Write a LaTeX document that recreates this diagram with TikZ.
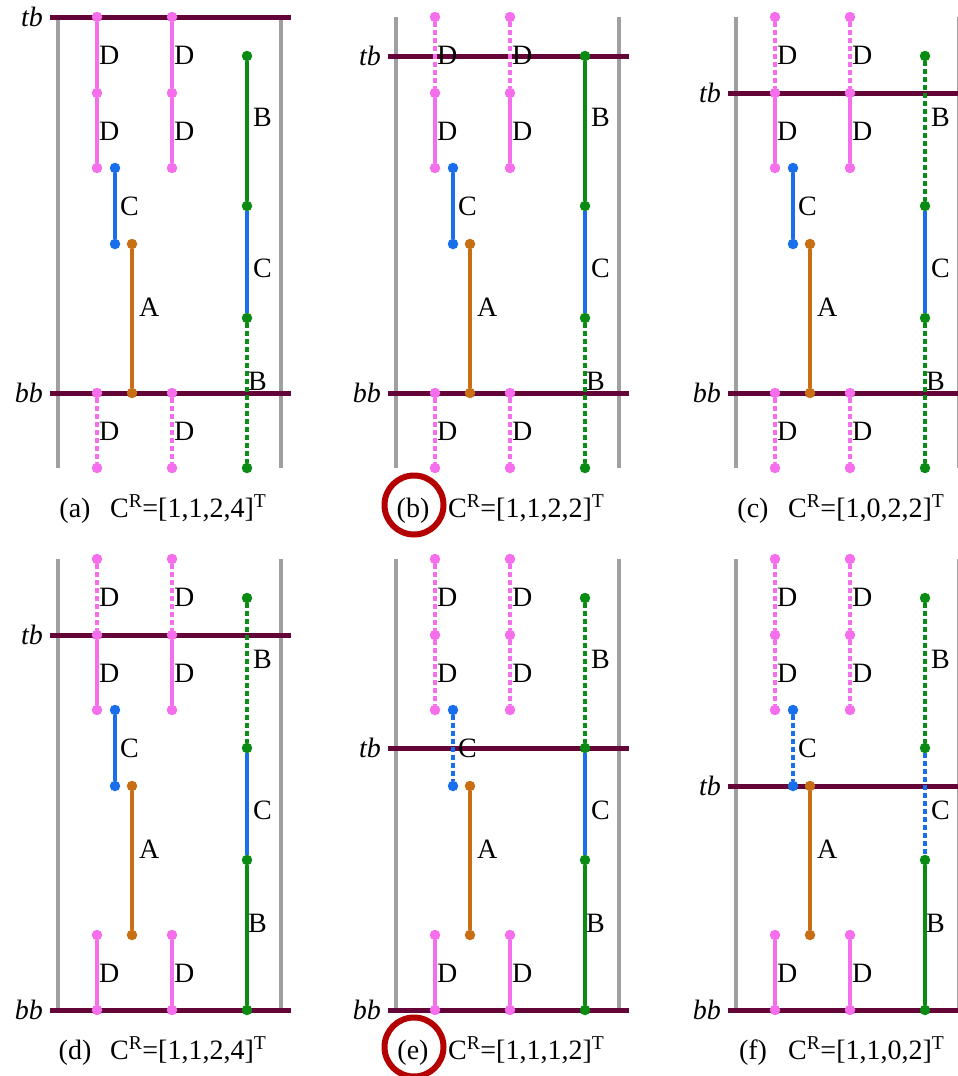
\documentclass[tikz,border=0pt]{standalone}
\usepackage{fontspec}
\setmainfont{LiberationSerif}[Extension=.ttf,UprightFont=*-Regular,ItalicFont=*-Italic,BoldFont=*-Bold]
\definecolor{BarClr}{RGB}{100,5,55}
\definecolor{WallClr}{RGB}{160,160,160}
\definecolor{DClr}{RGB}{245,110,235}
\definecolor{CClr}{RGB}{25,110,235}
\definecolor{AClr}{RGB}{200,110,20}
\definecolor{BClr}{RGB}{10,140,20}
\definecolor{RingClr}{RGB}{180,0,0}

\tikzset{
  every node/.style={font=\fontsize{28}{30}\selectfont},
  wall/.style={line width=4pt,color=WallClr},
  bar/.style={line width=5pt,color=BarClr},
  pt/.style={circle,fill,inner sep=0pt,minimum size=10.5pt},
  lbl/.style={anchor=west,inner sep=0pt},
  solidseg/.style={line width=3.3pt},
  dotseg/.style={line width=3.3pt,dash pattern=on 5pt off 3pt},
  seg/.code args={#1 to #2}{\ifnum#1<\tbY\relax\tikzset{dotseg}\else
    \ifnum#2>\bbY\relax\tikzset{dotseg}\else\tikzset{solidseg}\fi\fi},
  ring/.style={circle,draw=RingClr,line width=6pt,minimum size=59pt,inner sep=0pt},
}

\newcommand\drawpanel[7]{%
\begin{scope}[shift={(#2,#3)}]
\def\tbY{#4}\def\bbY{#5}
\coordinate (#1-wl1) at (58,17);
\coordinate (#1-wl2) at (58,468);
\coordinate (#1-wr1) at (281,17);
\coordinate (#1-wr2) at (281,468);
\draw[wall] (#1-wl1) -- (#1-wl2);
\draw[wall] (#1-wr1) -- (#1-wr2);
\coordinate (#1-t1) at (50,#4);
\coordinate (#1-t2) at (291,#4);
\coordinate (#1-b1) at (50,#5);
\coordinate (#1-b2) at (291,#5);
\draw[bar] (#1-t1) -- (#1-t2);
\draw[bar] (#1-b1) -- (#1-b2);
\node[anchor=east,inner sep=0pt] (#1-tb) at (43,#4) {\textit{tb}};
\node[anchor=east,inner sep=0pt] (#1-bb) at (43,#5) {\textit{bb}};

\node[pt,DClr] (#1-d1) at (97,17) {};
\node[pt,DClr] (#1-d2) at (97,93) {};
\node[pt,DClr] (#1-d3) at (97,168) {};
\node[pt,DClr] (#1-d4) at (97,393) {};
\node[pt,DClr] (#1-d5) at (97,468) {};
\node[pt,DClr] (#1-e1) at (172,17) {};
\node[pt,DClr] (#1-e2) at (172,93) {};
\node[pt,DClr] (#1-e3) at (172,168) {};
\node[pt,DClr] (#1-e4) at (172,393) {};
\node[pt,DClr] (#1-e5) at (172,468) {};
\node[pt,CClr] (#1-c1) at (115,168) {};
\node[pt,CClr] (#1-c2) at (115,244) {};
\node[pt,AClr] (#1-a1) at (132,244) {};
\node[pt,AClr] (#1-a2) at (132,393) {};
\node[pt,BClr] (#1-g1) at (247,56) {};
\node[pt,BClr] (#1-g2) at (247,206) {};
\node[pt,BClr] (#1-g3) at (247,318) {};
\node[pt,BClr] (#1-g4) at (247,468) {};

\draw[seg=17 to 93,DClr] (#1-d1) -- (#1-d2);
\draw[seg=93 to 168,DClr] (#1-d2) -- (#1-d3);
\draw[seg=393 to 468,DClr] (#1-d4) -- (#1-d5);
\draw[seg=17 to 93,DClr] (#1-e1) -- (#1-e2);
\draw[seg=93 to 168,DClr] (#1-e2) -- (#1-e3);
\draw[seg=393 to 468,DClr] (#1-e4) -- (#1-e5);
\draw[seg=168 to 244,CClr] (#1-c1) -- (#1-c2);
\draw[seg=244 to 393,AClr] (#1-a1) -- (#1-a2);
\draw[seg=56 to 206,BClr] (#1-g1) -- (#1-g2);
\draw[seg=206 to 318,CClr] (#1-g2) -- (#1-g3);
\draw[seg=318 to 468,BClr] (#1-g3) -- (#1-g4);

\node[lbl] (#1-ld1) at (99,55) {D};
\node[lbl] (#1-ld2) at (99,131) {D};
\node[lbl] (#1-ld3) at (99,431) {D};
\node[lbl] (#1-le1) at (174,55) {D};
\node[lbl] (#1-le2) at (174,131) {D};
\node[lbl] (#1-le3) at (174,431) {D};
\node[lbl] (#1-lc) at (120,206) {C};
\node[lbl] (#1-la) at (139,307) {A};
\node[lbl] (#1-lg1) at (253,117) {B};
\node[lbl] (#1-lg2) at (253,268) {C};
\node[lbl] (#1-lg3) at (248,381) {B};

\node[anchor=base,inner sep=0pt] (#1-cap) at (75,517) {(#6)};
\node[anchor=base west,inner sep=0pt] (#1-vec) at (110,517)
  {C\textsuperscript{R}=[#7]\textsuperscript{T}};
\end{scope}}

\begin{document}
\begin{tikzpicture}[x=1pt,y=-1pt]
\useasboundingbox (0,0) rectangle (958,1076);
\clip (0,0) rectangle (958,1076);

\drawpanel{a}{0}{0}{17}{393}{a}{1,1,2,4}
\drawpanel{b}{338}{0}{56}{393}{b}{1,1,2,2}
\drawpanel{c}{678}{0}{93}{393}{c}{1,0,2,2}
\drawpanel{d}{0}{542}{93}{468}{d}{1,1,2,4}
\drawpanel{e}{338}{542}{206}{468}{e}{1,1,1,2}
\drawpanel{f}{678}{542}{244}{468}{f}{1,1,0,2}

\node[ring] (b-mark) at (414,505) {};
\node[ring] (e-mark) at (414,1047) {};

\end{tikzpicture}
\end{document}
